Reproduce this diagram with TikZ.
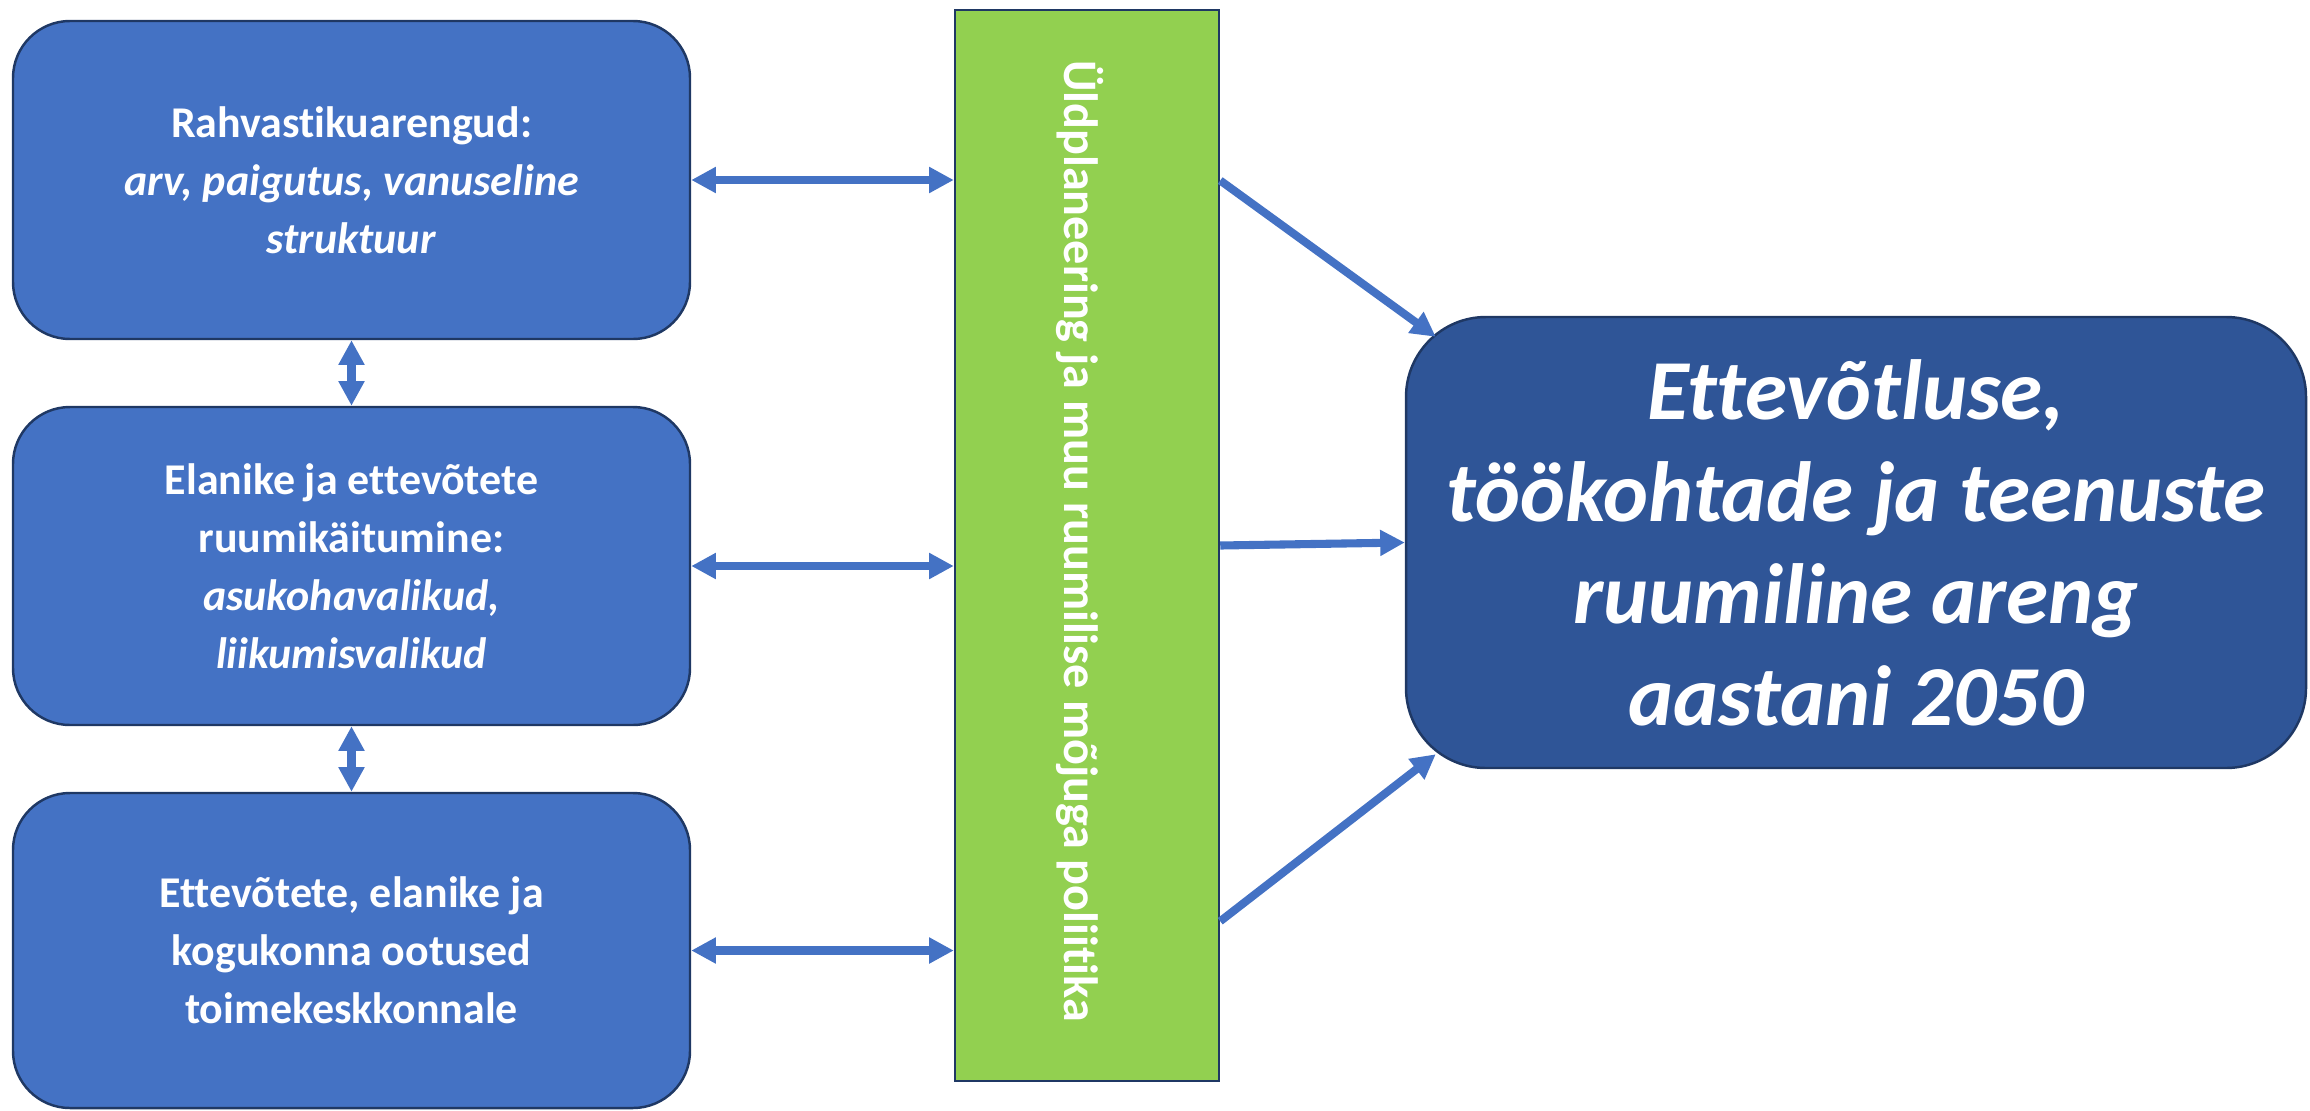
\documentclass[tikz,border=0pt]{standalone}
\usepackage{fontspec}
\setmainfont{Carlito}[Ligatures=NoCommon]
\usetikzlibrary{arrows.meta,calc}
\definecolor{boxblue}{HTML}{4472C4}
\definecolor{darkblue}{HTML}{2F5597}
\definecolor{navyline}{HTML}{1F3864}
\definecolor{policygreen}{HTML}{92D050}
\begin{document}
\begin{tikzpicture}
      \tikzstyle{factor}=[draw=navyline,line width=0.7pt,fill=boxblue,rounded corners=0.57cm,minimum width=6.77cm,minimum height=3.18cm,text=white,align=center,font=\bfseries\fontsize{12.5}{16.5}\selectfont]
      \tikzstyle{link}=[draw=boxblue,line width=2.3pt,{Triangle[length=7pt,width=7pt]}-{Triangle[length=7pt,width=7pt]}]
      \tikzstyle{flow}=[draw=boxblue,line width=2.3pt,-{Triangle[length=7pt,width=7pt]}]
      \useasboundingbox (0,0) rectangle (23.1,11.1);
      \node[factor] (A) at (3.515,9.30) {Rahvastikuarengud:\\\textit{arv, paigutus, vanuseline}\\\textit{struktuur}};
      \node[factor] (B) at (3.515,5.44) {Elanike ja ettevõtete\\ruumikäitumine:\\\textit{asukohavalikud,}\\\textit{liikumisvalikud}};
      \node[factor,minimum height=3.15cm] (C) at (3.515,1.595) {Ettevõtete, elanike ja\\kogukonna ootused\\toimekeskkonnale};
      \node[draw=navyline,line width=0.7pt,fill=policygreen,minimum width=2.64cm,minimum height=10.71cm] (P) at (10.87,5.645) {};
      \node[rotate=-90,text=white,font=\bfseries\fontsize{13.7}{16}\selectfont] (L) at (10.80,5.69) {Üldplaneering ja muu ruumilise mõjuga poliitika};
      \node[draw=navyline,line width=0.7pt,fill=darkblue,rounded corners=0.8cm,minimum width=9.0cm,minimum height=4.51cm,text=white,align=center,font=\bfseries\itshape\fontsize{24.3}{29}\selectfont] (G) at (18.56,5.675) {Ettevõtluse,\\töökohtade ja teenuste\\ruumiline areng\\aastani 2050};
      \path[link] (A.east) -- (A.east -| P.west);
      \path[link] (B.east) -- (B.east -| P.west);
      \path[link] (C.east) -- (C.east -| P.west);
      \path[link] (A.south) -- (B.north);
      \path[link] (B.south) -- (C.north);
      \path[flow] ($(P.north east)!0.16!(P.south east)$) -- ($(G.north west)+(0.31,-0.21)$);
      \path[flow] (P.east) -- (G.west);
      \path[flow] ($(P.south east)!0.15!(P.north east)$) -- ($(G.south west)+(0.31,0.15)$);
    \end{tikzpicture}
\end{document}
